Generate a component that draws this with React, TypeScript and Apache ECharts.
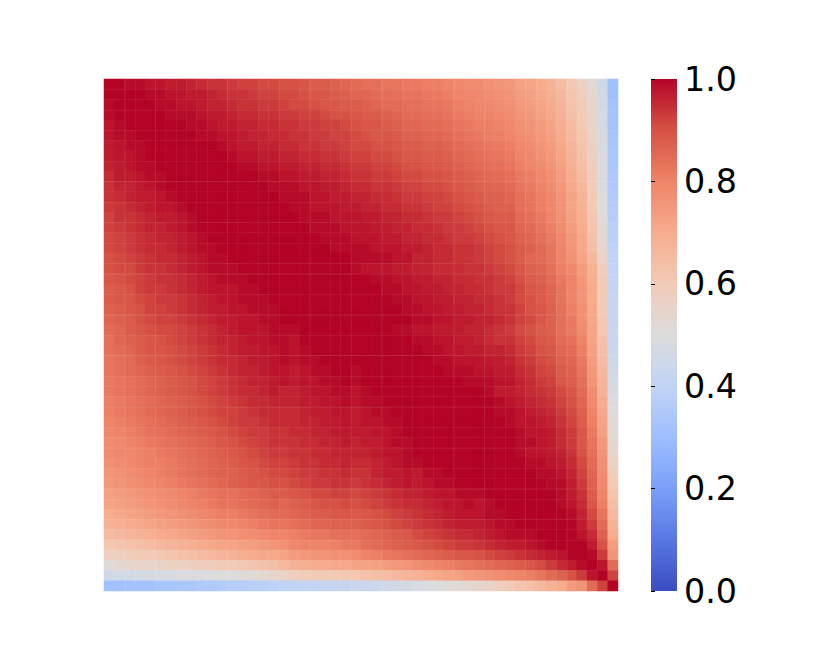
import React, { useEffect, useRef } from "react";
import * as echarts from "echarts";

// Upper triangle of the correlation matrix, in percent: each row starts at its diagonal cell.
const upperRows: number[][] = [
  [100,100,99,99,98,98,97,97,96,95, 94,94,93,92,92,91,91,90,90,89, 88,88,87,86,85,84,84,83,83,82, 82,81,81,80,79,78,78,77,76,75, 73,72,70,68,65,61,57,52,45,31],
  [100,100,100,99,99,98,98,97,97, 96,95,94,94,93,92,92,91,91,90, 89,89,88,87,86,86,85,84,84,83, 83,82,82,81,80,79,79,78,77,76, 74,73,71,69,66,62,58,53,46,31],
  [100,100,100,99,99,98,98,97, 96,96,95,94,94,93,93,92,91,91, 90,89,89,88,88,87,86,85,85,84, 84,83,83,82,81,80,79,79,78,77, 75,74,72,70,67,63,59,54,46,32],
  [100,100,100,99,99,99,98, 97,97,96,95,95,94,94,93,93,92, 92,91,90,90,89,88,88,87,86,85, 85,84,84,83,82,81,80,80,79,78, 76,75,73,71,68,64,60,55,47,32],
  [100,100,100,100,99,99, 98,97,97,96,96,95,95,94,94,93, 93,92,92,91,90,89,89,88,87,86, 86,85,85,84,83,82,81,81,80,79, 77,76,74,72,69,65,60,55,47,32],
  [100,100,100,100,99, 99,98,98,97,96,96,95,95,94,94, 93,93,92,92,91,90,89,89,88,87, 87,86,86,85,84,83,82,81,81,80, 78,77,75,73,70,66,61,56,48,33],
  [100,100,100,100, 100,99,98,97,97,96,96,95,95,94, 94,93,93,92,91,91,90,90,89,88, 88,87,87,86,85,84,83,82,82,81, 79,78,76,74,71,67,62,57,48,33],
  [100,100,100, 100,100,99,98,98,97,97,96,96,95, 95,94,94,93,92,92,91,91,90,89, 89,88,88,87,86,85,84,83,83,82, 80,79,77,75,72,68,63,57,49,34],
  [100,100, 100,100,100,99,99,98,98,97,97,96, 96,95,95,94,93,93,92,92,91,90, 90,89,89,88,87,86,85,84,84,83, 81,80,78,76,73,69,64,58,49,34],
  [100, 100,100,100,100,100,99,99,98,98,97, 97,96,96,95,94,94,93,93,92,91, 91,90,90,89,88,87,86,85,85,84, 82,81,79,77,74,70,65,59,49,35],
  [100,100,100,100,100,100,99,99,99,98, 98,97,97,96,95,95,94,94,93,92, 92,91,91,90,89,88,87,86,86,85, 83,82,80,78,75,71,66,59,49,35],
  [100,100,100,100,100,100,99,99,99, 98,98,97,97,96,96,95,95,94,93, 93,92,92,91,90,89,88,87,87,86, 84,83,81,79,76,72,67,60,50,36],
  [100,100,100,100,100,100,99,99, 98,98,98,97,97,96,96,95,95,94, 94,93,92,92,91,90,89,88,87,87, 84,83,81,79,76,72,68,60,50,37],
  [100,100,100,100,100,100,99, 99,99,98,98,98,97,97,96,96,95, 95,94,93,93,92,91,90,89,88,88, 85,84,82,80,77,73,69,61,51,37],
  [100,100,100,100,100,100, 99,99,99,98,98,98,97,97,96,96, 95,95,94,93,93,92,91,90,89,89, 86,85,83,81,78,74,70,62,52,38],
  [100,100,100,100,100, 100,99,99,99,98,98,98,97,97,96, 96,95,95,94,93,93,92,91,90,89, 87,86,84,82,79,75,71,63,53,38],
  [100,100,100,100, 100,100,99,99,99,99,98,98,98,97, 97,96,95,95,94,94,93,92,91,90, 88,87,85,83,80,76,71,64,54,39],
  [100,100,100, 100,100,100,100,99,99,99,99,98,98, 96,96,95,95,94,94,93,92,91,90, 88,86,85,83,80,77,72,66,56,40],
  [100,100, 100,100,100,100,99,98,98,98,97,97, 96,96,95,95,95,94,94,93,92,91, 89,87,86,84,81,79,74,68,58,40],
  [100, 100,100,100,100,100,100,99,99,98,98, 97,97,96,96,95,95,94,94,93,92, 90,88,87,85,82,80,75,69,59,41],
  [100,100,100,100,100,100,100,99,99,98, 98,97,97,96,96,95,95,94,93,93, 91,89,88,86,83,80,76,70,60,41],
  [100,100,100,100,100,100,100,99,99, 98,98,97,97,96,96,95,95,94,93, 91,90,88,86,83,80,76,70,60,42],
  [100,100,100,100,100,100,100,99, 99,98,98,97,97,96,96,95,94,94, 92,90,89,87,84,81,77,71,60,42],
  [100,100,100,100,100,100,100, 99,99,98,98,97,97,96,96,95,94, 92,91,89,87,84,82,77,71,61,42],
  [100,100,100,100,99,99, 98,98,97,97,97,96,96,95,94,93, 91,90,88,87,84,82,78,72,61,43],
  [100,100,100,100,100, 99,99,98,98,97,97,96,95,94,94, 92,91,89,88,85,84,80,72,63,43],
  [100,100,100,100, 100,99,99,98,98,97,97,96,96,95, 93,92,90,89,86,85,81,73,64,44],
  [100,100,100, 100,100,99,99,98,98,98,97,97,96, 94,93,91,90,87,86,82,74,65,45],
  [100,100, 100,100,100,99,99,99,98,98,97,97, 95,94,92,91,88,87,83,75,66,46],
  [100, 100,100,100,100,100,99,99,99,98,98, 96,95,93,92,89,88,84,76,67,47],
  [100,100,100,100,100,100,100,99,97,97, 96,95,94,93,91,89,85,78,68,48],
  [100,100,100,100,100,100,100,99,98, 97,96,95,94,92,90,86,79,70,49],
  [100,100,100,100,100,100,99,99, 98,97,96,95,93,91,87,80,71,50],
  [100,100,100,100,100,100,99, 98,98,97,96,94,92,88,81,72,51],
  [100,100,100,100,100,100, 99,98,98,97,95,93,89,82,73,52],
  [100,100,100,100,100, 99,99,98,97,95,93,89,83,75,53],
  [100,100,100,100, 99,98,98,97,96,94,90,84,76,54],
  [100,100,100, 100,99,99,98,97,95,91,85,77,56],
  [100,100, 100,100,99,99,98,96,92,86,78,58],
  [100, 100,100,100,99,99,97,93,87,79,60],
  [100,100,100,100,99,97,94,88,80,62],
  [100,100,100,99,98,95,89,81,64],
  [100,100,100,99,96,91,83,66],
  [100,100,100,97,93,85,68],
  [100,100,98,95,87,70],
  [100,100,97,90,74],
  [100,99,93,76],
  [100,98,85],
  [100,92],
  [100],
];

const coolwarm = ["#3b4cc0", "#5977e3", "#7b9ff9", "#9ebeff", "#c0d4f5", "#dddcdc", "#f2cbb7", "#f7ac8e", "#ee8468", "#d65244", "#b40426"];
const colorbarTicks = { min: 0, max: 1, interval: 0.2 };
// Cell boundaries where the reference shows a faint lighter seam.
const seamColumns = [2, 3, 5, 7, 8, 10, 12, 15, 17, 20, 22, 24, 27, 29, 32, 34, 37, 39, 41, 42, 44, 45];
const seamRows = [1, 3, 5, 8, 10, 12, 14, 16, 18, 19, 21, 23, 25, 27, 29, 30, 32, 34, 36, 38, 40, 41, 43, 45];

const GRID = { left: 104, top: 79, width: 514, height: 512 };
const BAR = { left: 651, top: 79, width: 26, height: 512 };

const indices = upperRows.map((_, i) => String(i));
const cells: number[][] = [];
upperRows.forEach((row, i) => {
  row.forEach((v, k) => {
    const j = i + k;
    cells.push([j, i, v / 100]);
    if (j !== i) cells.push([i, j, v / 100]);
  });
});

export default function App() {
  const ref = useRef<HTMLDivElement>(null);
  useEffect(() => {
    document.body.style.margin = "0";
    const chart = echarts.init(ref.current!, undefined, { renderer: "svg" });
    const n = indices.length;
    const seamStyle = { stroke: "#ffffff", lineWidth: 1, opacity: 0.06 };
    const seams = [
      ...seamColumns.map((b) => {
        const x = Math.round(GRID.left + (b * GRID.width) / n) + 0.5;
        return { type: "line", silent: true, z: 5, shape: { x1: x, y1: GRID.top, x2: x, y2: GRID.top + GRID.height }, style: seamStyle };
      }),
      ...seamRows.map((b) => {
        const y = Math.round(GRID.top + (b * GRID.height) / n) + 0.5;
        return { type: "line", silent: true, z: 5, shape: { x1: GRID.left, y1: y, x2: GRID.left + GRID.width, y2: y }, style: seamStyle };
      }),
    ];
    chart.setOption({
      animation: false,
      backgroundColor: "#ffffff",
      grid: [GRID, BAR],
      xAxis: [
        { type: "category", data: indices, gridIndex: 0, show: false },
        { type: "value", gridIndex: 1, show: false, min: 0, max: 1 },
      ],
      yAxis: [
        { type: "category", data: indices, gridIndex: 0, show: false, inverse: true },
        {
          type: "value",
          gridIndex: 1,
          position: "right",
          ...colorbarTicks,
          splitLine: { show: false },
          axisLine: { show: true, lineStyle: { color: "rgba(0,0,0,0)" } },
          axisTick: { show: true, length: 4, lineStyle: { color: "#000", width: 1 } },
          axisLabel: {
            show: true,
            margin: 7,
            fontFamily: "DejaVu Sans",
            fontSize: 33.3,
            color: "#000",
            formatter: (v: number) => v.toFixed(1),
          },
        },
      ],
      visualMap: {
        show: false,
        type: "continuous",
        min: 0,
        max: 1,
        seriesIndex: 0,
        dimension: 2,
        inRange: { color: coolwarm },
      },
      graphic: [
        {
          type: "rect",
          silent: true,
          shape: { x: BAR.left, y: BAR.top, width: BAR.width, height: BAR.height },
          style: {
            fill: new echarts.graphic.LinearGradient(0, 1, 0, 0, coolwarm.map((color, i) => ({ offset: i / (coolwarm.length - 1), color }))),
          },
        },
        ...seams,
      ],
      series: [
        {
          type: "heatmap",
          xAxisIndex: 0,
          yAxisIndex: 0,
          data: cells,
          silent: true,
          progressive: 0,
          itemStyle: { borderWidth: 0 },
          emphasis: { disabled: true },
        },
      ],
    });
    return () => chart.dispose();
  }, []);
  return <div ref={ref} style={{ position: "absolute", left: 0, top: 0, width: 830, height: 664 }} />;
}
